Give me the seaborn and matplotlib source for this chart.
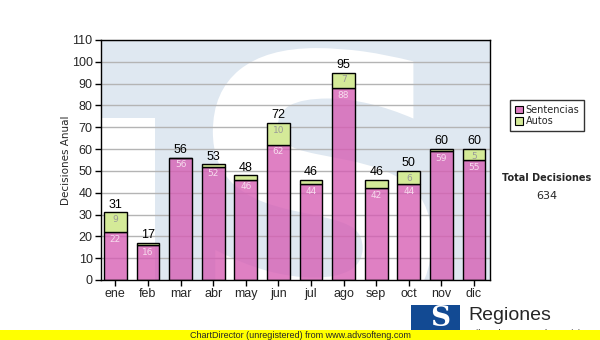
import numpy as np
import pandas as pd
import matplotlib
matplotlib.use("Agg")
import matplotlib.pyplot as plt
import seaborn as sns
from matplotlib.patches import Rectangle, PathPatch, Patch
from matplotlib.textpath import TextPath
from matplotlib.font_manager import FontProperties
from matplotlib.transforms import Affine2D

months = ["ene", "feb", "mar", "abr", "may", "jun", "jul", "ago", "sep", "oct", "nov", "dic"]
sentencias = [22, 16, 56, 52, 46, 62, 44, 88, 42, 44, 59, 55]
autos = [9, 1, 0, 1, 2, 10, 2, 7, 4, 6, 1, 5]
totales = [s + a for s, a in zip(sentencias, autos)]
yticks = list(range(0, 111, 10))

df = pd.DataFrame({"mes": months, "Sentencias": sentencias, "Autos": autos})

sns.set_theme(style="white")
plt.rcParams["font.family"] = ["Liberation Sans", "DejaVu Sans"]

W, H = 600, 340
fig = plt.figure(figsize=(6, 3.4), dpi=100)
fig.patch.set_facecolor("white")

ax = fig.add_axes([101 / W, 60 / H, 389 / W, 240 / H])
ax.set_facecolor("#dfe8f1")

# watermark: white block and large white "S"
ax.add_patch(Rectangle((-0.44, 0), 1.66, 74.3, facecolor="white", edgecolor="none", zorder=0.3))
tp = TextPath((0, 0), "S", prop=FontProperties(family="DejaVu Sans", weight="bold"), size=100)
ext = tp.get_extents()
x0, x1, y0, y1 = 2.99, 9.7, -22, 106.3
tr = Affine2D().translate(-ext.x0, -ext.y0).scale((x1 - x0) / ext.width, (y1 - y0) / ext.height).translate(x0, y0)
sp = PathPatch(tr.transform_path(tp), facecolor="white", edgecolor="none", zorder=0.4)
ax.add_patch(sp)
sp.set_clip_path(ax.patch)

for y in yticks[1:]:
    ax.axhline(y, color="#b4b4b4", lw=1, zorder=1)

pink = (0.84, 0.36, 0.70, 0.78)
green = "#d4ea98"
sns.barplot(data=df, x="mes", y="Sentencias", color=pink, width=0.7, edgecolor="black",
            linewidth=1, saturation=1, ax=ax, zorder=2)
sns.barplot(data=df, x="mes", y="Autos", color=green, width=0.7, edgecolor="black",
            linewidth=1, saturation=1, ax=ax, zorder=2, bottom=sentencias)

for i, (s, a, t) in enumerate(zip(sentencias, autos, totales)):
    ax.text(i, s - 1.2, str(s), ha="center", va="top", fontsize=6.5, color="#f7dcee",
            family="DejaVu Sans", zorder=3)
    if a >= 5:
        ax.text(i, t - 1.2, str(a), ha="center", va="top", fontsize=6.5, color="#9a9a9a",
                family="DejaVu Sans", zorder=3)
    ax.text(i, t + 0.8, str(t), ha="center", va="bottom", fontsize=9, color="black", zorder=3)

ax.set_xlim(-0.44, 11.49)
ax.set_ylim(0, 110)
ax.set_yticks(yticks)
ax.set_yticklabels([str(v) for v in yticks], fontsize=9)
ax.set_xticks(range(len(months)))
ax.set_xticklabels(months, fontsize=9)
ax.set_xlabel("")
ax.set_ylabel("Decisiones Anual", fontsize=7.5, family="DejaVu Sans")
ax.yaxis.set_label_coords(-0.078, 0.5)
ax.tick_params(axis="both", direction="out", length=4, width=1, color="black", pad=2,
               bottom=True, left=True)
for side in ["left", "right", "top", "bottom"]:
    ax.spines[side].set_visible(True)
    ax.spines[side].set_color("black")
    ax.spines[side].set_linewidth(1)

handles = [Patch(facecolor="#dd7cc0", edgecolor="black", lw=0.8, label="Sentencias"),
           Patch(facecolor=green, edgecolor="black", lw=0.8, label="Autos")]
leg = fig.legend(handles=handles, loc="upper left", bbox_to_anchor=(510 / W, 1 - 100 / H),
                 prop=FontProperties(family="DejaVu Sans", size=7), frameon=True,
                 fancybox=False, handlelength=0.8, handleheight=0.8, handletextpad=0.3,
                 borderpad=0.5, labelspacing=0.15, borderaxespad=0)
leg.get_frame().set_edgecolor("black")
leg.get_frame().set_linewidth(1)

fig.text(547 / W, 1 - 178 / H, "Total Decisiones", ha="center", va="center", fontsize=7,
         weight="bold", family="DejaVu Sans")
fig.text(547 / W, 1 - 196 / H, str(sum(totales)), ha="center", va="center", fontsize=8,
         family="DejaVu Sans")

# footer logo
fig.patches.append(Rectangle((411 / W, 1 - 331 / H), 49 / W, 26 / H, transform=fig.transFigure,
                             facecolor="#124a93", edgecolor="none", zorder=1))
fig.text(440 / W, 1 - 318 / H, "S", ha="center", va="center", fontsize=20, weight="bold",
         color="white", family="DejaVu Serif", zorder=2)
fig.text(468 / W, 1 - 316 / H, "Regiones", ha="left", va="center", fontsize=14, zorder=2)
fig.text(468 / W, 1 - 334 / H, "Tribunal Supremo de Justicia", ha="left", va="center",
         fontsize=6.5, zorder=2)
fig.patches.append(Rectangle((0, 0), 1, 10 / H, transform=fig.transFigure,
                             facecolor="#ffff00", edgecolor="none", zorder=5))
fig.text(300 / W, 5 / H, "ChartDirector (unregistered) from www.advsofteng.com", ha="center",
         va="center", fontsize=6.5, zorder=6)

fig.savefig("out.png", dpi=100)
